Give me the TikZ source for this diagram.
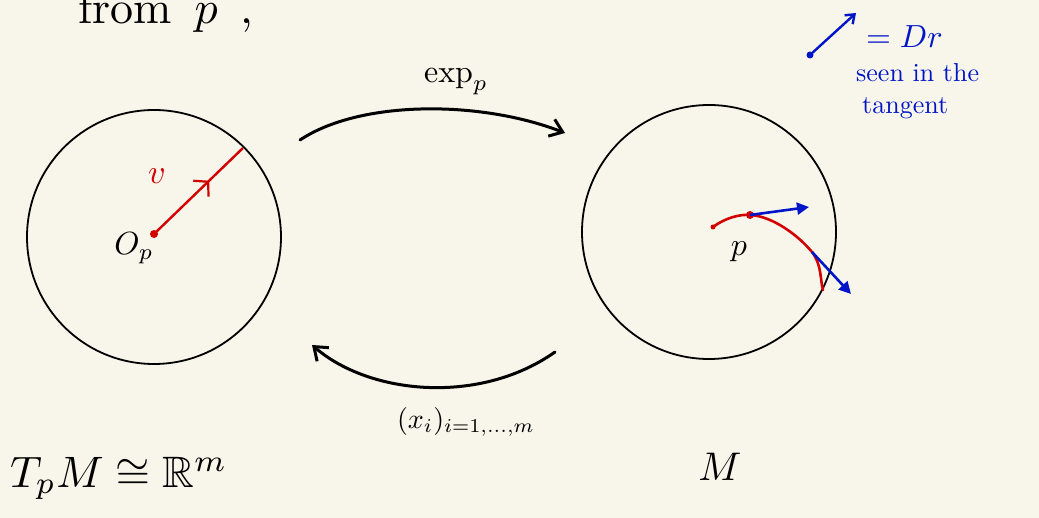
\documentclass[tikz,border=0pt]{standalone}
\usepackage{amssymb}
\usepackage{graphicx}
\usetikzlibrary{arrows.meta,decorations.markings}
\definecolor{paper}{RGB}{248,246,234}
\definecolor{inkred}{RGB}{210,0,0}
\definecolor{inkblue}{RGB}{0,20,200}
\newcommand{\bigtxt}[2]{\scalebox{#1}{#2}}
\tikzset{
  disk/.style={draw=black,line width=1.8pt},
  maparrow/.style={draw=black,line width=3pt,line cap=round},
  lbl/.style={inner sep=0pt},
  bluevec/.style={draw=inkblue,line width=2.6pt,-{Triangle[length=12pt,width=12pt]}},
}
\begin{document}
\begin{tikzpicture}[x=1pt,y=-1pt]
\fill[paper] (0,0) rectangle (1039,518);
\useasboundingbox (0,0) rectangle (1039,518);
\begin{scope}
\clip (0,0) rectangle (1039,518);
\node[lbl,anchor=base west] (from) at (78,24) {\bigtxt{4.6}{from\enspace$p$\enspace,}};
\end{scope}
% circles
\node[disk,circle,minimum size=254pt,inner sep=0pt] (tpm) at (154,237) {};
\node[disk,circle,minimum size=254pt,inner sep=0pt] (man) at (709,232) {};
% left vector
\coordinate (o) at (154,234);
\coordinate (vend) at (243,148);
\draw[inkred,line width=2.4pt,
  decoration={markings,mark=at position 0.62 with {\arrow{Straight Barb[length=10pt,width=22pt,line width=2.2pt]}}},
  postaction={decorate}] (o) -- (vend);
\fill[inkred] (o) circle (4pt);
\node[lbl,text=inkred] (vlab) at (157,176) {\bigtxt{3.4}{$v$}};
\node[lbl] (olab) at (134,248) {\bigtxt{3.2}{$O_p$}};
% maps
\coordinate (a1) at (300,140);
\coordinate (a2) at (565,133);
\draw[maparrow,-{Straight Barb[length=12pt,width=18pt]}] (a1) .. controls (360,100) and (480,100) .. (a2);
\node[lbl] (explab) at (456,82) {\bigtxt{3.2}{$\exp_p$}};
\coordinate (b1) at (555,352);
\coordinate (b2) at (312,345);
\draw[maparrow,-{Straight Barb[length=12pt,width=18pt]}] (b1) .. controls (480,405) and (370,395) .. (b2);
\node[lbl] (xlab) at (466,422) {\bigtxt{2.8}{$(x_i)_{i=1,\dots,m}$}};
% bottom labels
\node[lbl,anchor=base west] (tlab) at (10,487) {\bigtxt{4.4}{$T_p M\cong\mathbb{R}^m$}};
\node[lbl,anchor=base] (mlab) at (720,480) {\bigtxt{4}{$M$}};
% right curve
\coordinate (c0) at (713,227);
\coordinate (c1) at (750,215);
\coordinate (c2) at (812,252);
\coordinate (c3) at (823,290);
\draw[inkred,line width=2.6pt,line cap=round] (c0) .. controls (725,218) and (740,214) .. (c1)
  .. controls (772,216) and (798,235) .. (c2) .. controls (822,265) and (820,280) .. (c3);
\fill[inkred] (c1) circle (4pt);
\fill[inkred] (c0) circle (2.5pt);
\coordinate (t1) at (809,207);
\coordinate (t2) at (851,294);
\draw[bluevec] (c1) -- (t1);
\draw[bluevec] (c2) -- (t2);
\node[lbl] (plab) at (739,252) {\bigtxt{3.2}{$p$}};
% legend
\coordinate (l0) at (810,55);
\coordinate (l1) at (856,13);
\draw[draw=inkblue,line width=2.4pt,-{Straight Barb[length=8pt,width=12pt]}] (l0) -- (l1);
\fill[inkblue] (l0) circle (3.5pt);
\node[lbl,anchor=base west,text=inkblue] (dr) at (866,48) {\bigtxt{3.2}{$=Dr$}};
\node[lbl,anchor=base west,text=inkblue] (seen) at (856,82) {\bigtxt{2.6}{seen in the}};
\node[lbl,anchor=base west,text=inkblue] (tang) at (862,114) {\bigtxt{2.6}{tangent}};
\end{tikzpicture}
\end{document}
